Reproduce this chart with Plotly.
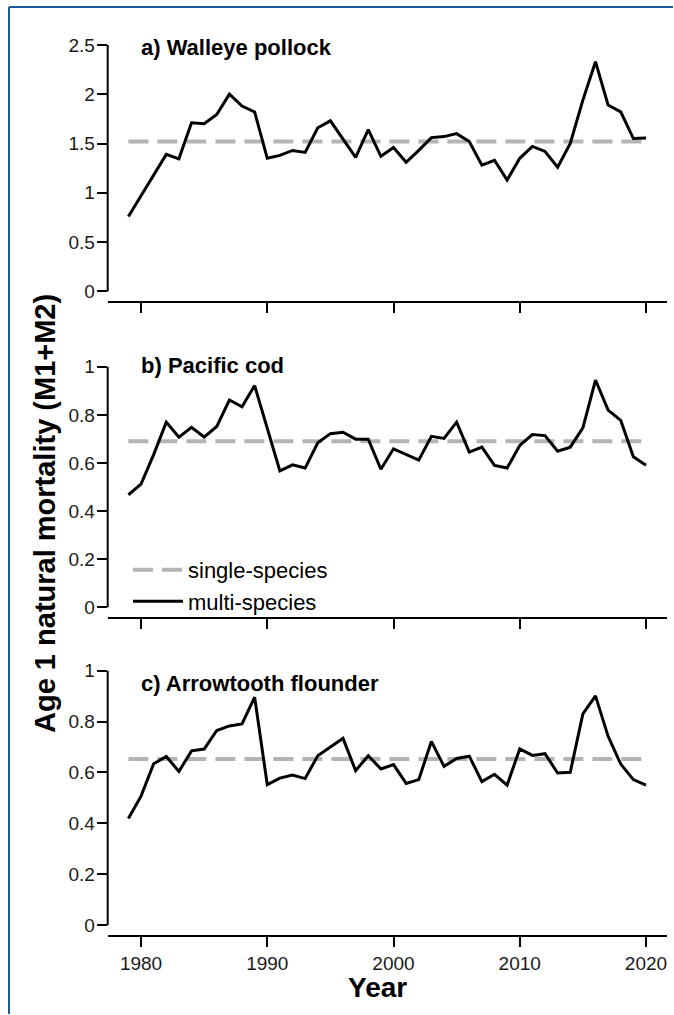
import plotly.graph_objects as go

# ---------------- data ----------------
years = list(range(1979, 2021))

pollock_ms = [0.76, 0.97, 1.18, 1.39, 1.345, 1.71, 1.70, 1.795, 2.00, 1.88,
              1.82, 1.35, 1.38, 1.43, 1.41, 1.66, 1.73, 1.54, 1.36, 1.64,
              1.37, 1.46, 1.31, 1.43, 1.56, 1.57, 1.60, 1.52, 1.28, 1.33,
              1.13, 1.35, 1.47, 1.42, 1.26, 1.50, 1.94, 2.33, 1.89, 1.82,
              1.55, 1.555]
cod_ms = [0.468, 0.512, 0.635, 0.770, 0.707, 0.748, 0.708, 0.752, 0.862, 0.834,
          0.922, 0.744, 0.567, 0.592, 0.579, 0.684, 0.722, 0.728, 0.699, 0.699,
          0.574, 0.659, 0.636, 0.612, 0.711, 0.702, 0.770, 0.645, 0.666, 0.590,
          0.579, 0.673, 0.718, 0.714, 0.649, 0.666, 0.746, 0.945, 0.820, 0.777,
          0.626, 0.591]
atf_ms = [0.419, 0.507, 0.634, 0.663, 0.604, 0.685, 0.692, 0.765, 0.783, 0.791,
          0.896, 0.552, 0.578, 0.590, 0.576, 0.666, 0.700, 0.734, 0.607, 0.666,
          0.614, 0.631, 0.557, 0.572, 0.722, 0.624, 0.655, 0.664, 0.564, 0.593,
          0.550, 0.693, 0.667, 0.674, 0.598, 0.601, 0.830, 0.901, 0.742, 0.633,
          0.572, 0.550]

pollock_ss = 1.52
cod_ss = 0.69
atf_ss = 0.653

panel_titles = ["a) Walleye pollock", "b) Pacific cod", "c) Arrowtooth flounder"]
x_tickvals = [1980, 1990, 2000, 2010, 2020]
x_ticktext = ["1980", "1990", "2000", "2010", "2020"]
pollock_tickvals = [0, 0.5, 1, 1.5, 2, 2.5]
pollock_ticktext = ["0", "0.5", "1", "1.5", "2", "2.5"]
prop_tickvals = [0, 0.2, 0.4, 0.6, 0.8, 1]
prop_ticktext = ["0", "0.2", "0.4", "0.6", "0.8", "1"]
legend_names = ["single-species", "multi-species"]
y_title = "Age 1 natural mortality (M1+M2)"
x_title = "Year"

# ---------------- layout helpers ----------------
W, H = 674, 1015
FONT = "Liberation Sans, Arial, sans-serif"
TXT = "#1a1a1a"
GRAY = "#b4b4b4"


def px_x(p):
    return p / W


def px_y(p):
    return 1 - p / H


x_dom = [px_x(107.7), px_x(666.7)]
x_rng = [1977.36, 2021.64]

panels = [
    dict(ms=pollock_ms, ss=pollock_ss, tv=pollock_tickvals, tt=pollock_ticktext,
         rng=[-0.1, 2.6], dom=[px_y(300.9), px_y(34.1)], ttl_y=47),
    dict(ms=cod_ms, ss=cod_ss, tv=prop_tickvals, tt=prop_ticktext,
         rng=[-0.04, 1.04], dom=[px_y(617.1), px_y(356.9)], ttl_y=365),
    dict(ms=atf_ms, ss=atf_ss, tv=prop_tickvals, tt=prop_ticktext,
         rng=[-0.04, 1.04], dom=[px_y(936.2), px_y(660.8)], ttl_y=684),
]

fig = go.Figure()
shapes = []
annotations = []

for i, p in enumerate(panels):
    n = "" if i == 0 else str(i + 1)
    xa, ya = "x" + n, "y" + n
    fig.add_trace(go.Scatter(
        x=years, y=[p["ss"]] * len(years), mode="lines", xaxis=xa, yaxis=ya,
        name=legend_names[0], showlegend=(i == 1), hoverinfo="skip",
        line=dict(color=GRAY, width=4, dash="20px,9px")))
    fig.add_trace(go.Scatter(
        x=years, y=p["ms"], mode="lines", xaxis=xa, yaxis=ya,
        name=legend_names[1], showlegend=(i == 1), hoverinfo="skip",
        line=dict(color="black", width=3)))

    fig.layout["xaxis" + n] = dict(
        domain=x_dom, range=x_rng, anchor=ya, showgrid=False, zeroline=False,
        showline=True, linecolor="black", linewidth=2,
        ticks="outside", ticklen=10, tickwidth=2, tickcolor="black",
        tickvals=x_tickvals, ticktext=x_ticktext,
        showticklabels=(i == 2),
        tickfont=dict(family=FONT, size=19, color=TXT))
    fig.layout["yaxis" + n] = dict(
        domain=p["dom"], range=p["rng"], anchor=xa, showgrid=False,
        zeroline=False, showline=False,
        ticks="outside", ticklen=10, tickwidth=2, tickcolor="black",
        tickvals=p["tv"], ticktext=p["tt"], ticklabelstandoff=-2,
        tickfont=dict(family=FONT, size=19, color=TXT))
    # y spine spanning first to last tick (R style)
    shapes.append(dict(type="line", xref=xa + " domain", yref=ya,
                       x0=0, x1=0, y0=p["tv"][0], y1=p["tv"][-1],
                       line=dict(color="black", width=2)))
    annotations.append(dict(text="<b>" + panel_titles[i] + "</b>",
                            xref="paper", yref="paper", x=px_x(139),
                            y=px_y(p["ttl_y"]), xanchor="left",
                            yanchor="middle", showarrow=False,
                            font=dict(family=FONT, size=22, color="black")))

annotations.append(dict(text="<b>" + y_title + "</b>", xref="paper",
                        yref="paper", x=px_x(45), y=px_y(514), textangle=-90,
                        xanchor="center", yanchor="middle", showarrow=False,
                        font=dict(family=FONT, size=29, color="black")))
annotations.append(dict(text="<b>" + x_title + "</b>", xref="paper",
                        yref="paper", x=px_x(377), y=px_y(988),
                        xanchor="center", yanchor="middle", showarrow=False,
                        font=dict(family=FONT, size=28, color="black")))

# blue frame (top and left edges)
shapes.append(dict(type="line", xref="paper", yref="paper",
                   x0=px_x(9), x1=px_x(673), y0=px_y(6), y1=px_y(6),
                   line=dict(color="#1f5a98", width=2)))
shapes.append(dict(type="line", xref="paper", yref="paper",
                   x0=px_x(9), x1=px_x(9), y0=px_y(6), y1=0,
                   line=dict(color="#1f5a98", width=2)))

fig.update_layout(
    width=W, height=H, margin=dict(l=0, r=0, t=0, b=0),
    paper_bgcolor="white", plot_bgcolor="white",
    shapes=shapes, annotations=annotations,
    showlegend=True, hovermode=False,
    legend=dict(x=px_x(128), y=px_y(549), xanchor="left", yanchor="top",
                bgcolor="rgba(0,0,0,0)", itemwidth=50, tracegroupgap=0,
                font=dict(family=FONT, size=22, color="black")),
)

fig.write_html(
    "out.html",
    config={"displayModeBar": False},
    post_script="document.body.style.margin='0';"
                "document.body.style.overflow='hidden';",
)
